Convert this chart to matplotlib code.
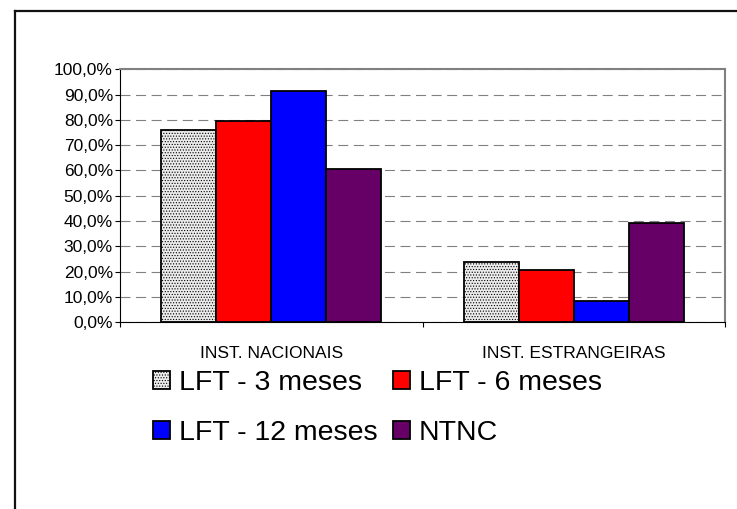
import numpy as np
import matplotlib
matplotlib.use('Agg')
import matplotlib.pyplot as plt
from matplotlib.lines import Line2D
from matplotlib.ticker import FuncFormatter

plt.rcParams['font.family'] = ['Liberation Sans', 'DejaVu Sans']
plt.rcParams['hatch.color'] = '#cfcfcf'
plt.rcParams['hatch.linewidth'] = 0.5

# Data
categories = ['INST. NACIONAIS', 'INST. ESTRANGEIRAS']
series = ['LFT - 3 meses', 'LFT - 6 meses', 'LFT - 12 meses', 'NTNC']
lft3 = [76.0, 24.0]
lft6 = [79.4, 20.6]
lft12 = [91.5, 8.5]
ntnc = [60.7, 39.3]
values = [lft3, lft6, lft12, ntnc]
colors = ['#ebebeb', '#ff0000', '#0000ff', '#660066']
hatches = ['......', None, None, None]

fig = plt.figure(figsize=(7.37, 5.09), dpi=100)
ax = fig.add_axes([120 / 737, 1 - 322.3 / 509, 605 / 737, 253 / 509])

# outer frame (cropped at right and bottom)
fig.add_artist(Line2D([15 / 737, 15 / 737], [0, 1 - 11 / 509], transform=fig.transFigure,
                      color='#111111', lw=1.6))
fig.add_artist(Line2D([15 / 737, 1], [1 - 11 / 509, 1 - 11 / 509], transform=fig.transFigure,
                      color='#111111', lw=1.6))

x = np.arange(len(categories)) + 0.5
w = 0.182
handles = []
for i, (vals, c, h, name) in enumerate(zip(values, colors, hatches, series)):
    b = ax.bar(x + (i - 1.5) * w, vals, width=w, color=c, edgecolor='black',
               linewidth=1.3, hatch=h, label=name, zorder=3)
    handles.append(b)

ax.set_xlim(0, 2)
ax.set_ylim(0, 100)
ax.set_yticks(np.arange(0, 101, 10))
ax.yaxis.set_major_formatter(FuncFormatter(lambda v, p: f'{v:.1f}%'.replace('.', ',')))
ax.tick_params(axis='y', direction='out', length=3.6, width=0.8, pad=1.5, labelsize=12.5)

ax.set_xticks([0, 1, 2])
ax.set_xticklabels([])
ax.set_xticks(x, minor=True)
ax.set_xticklabels(categories, minor=True, fontsize=12.5)
ax.tick_params(axis='x', which='major', direction='out', length=3.6, width=0.8)
ax.tick_params(axis='x', which='minor', length=0, pad=17)

ax.yaxis.grid(True, color='#808080', linestyle=(0, (9, 5)), linewidth=0.8)
ax.set_axisbelow(True)
for s in ['top', 'right']:
    ax.spines[s].set_color('#808080')
    ax.spines[s].set_linewidth(1.5)
for s in ['left', 'bottom']:
    ax.spines[s].set_color('black')
    ax.spines[s].set_linewidth(0.8)

# legend filled row by row: LFT 3 / LFT 6 on first row, LFT 12 / NTNC on second
order = [0, 2, 1, 3]
fig.legend(handles=[handles[k] for k in order], labels=[series[k] for k in order],
           ncol=2, loc='upper left',
           bbox_to_anchor=(153 / 737, 1 - 370 / 509), frameon=False,
           fontsize=20.5, handlelength=0.6, handleheight=0.6, handletextpad=0.3,
           columnspacing=0.55, labelspacing=0.85, borderpad=0, borderaxespad=0)

fig.savefig('out.png', dpi=100)
